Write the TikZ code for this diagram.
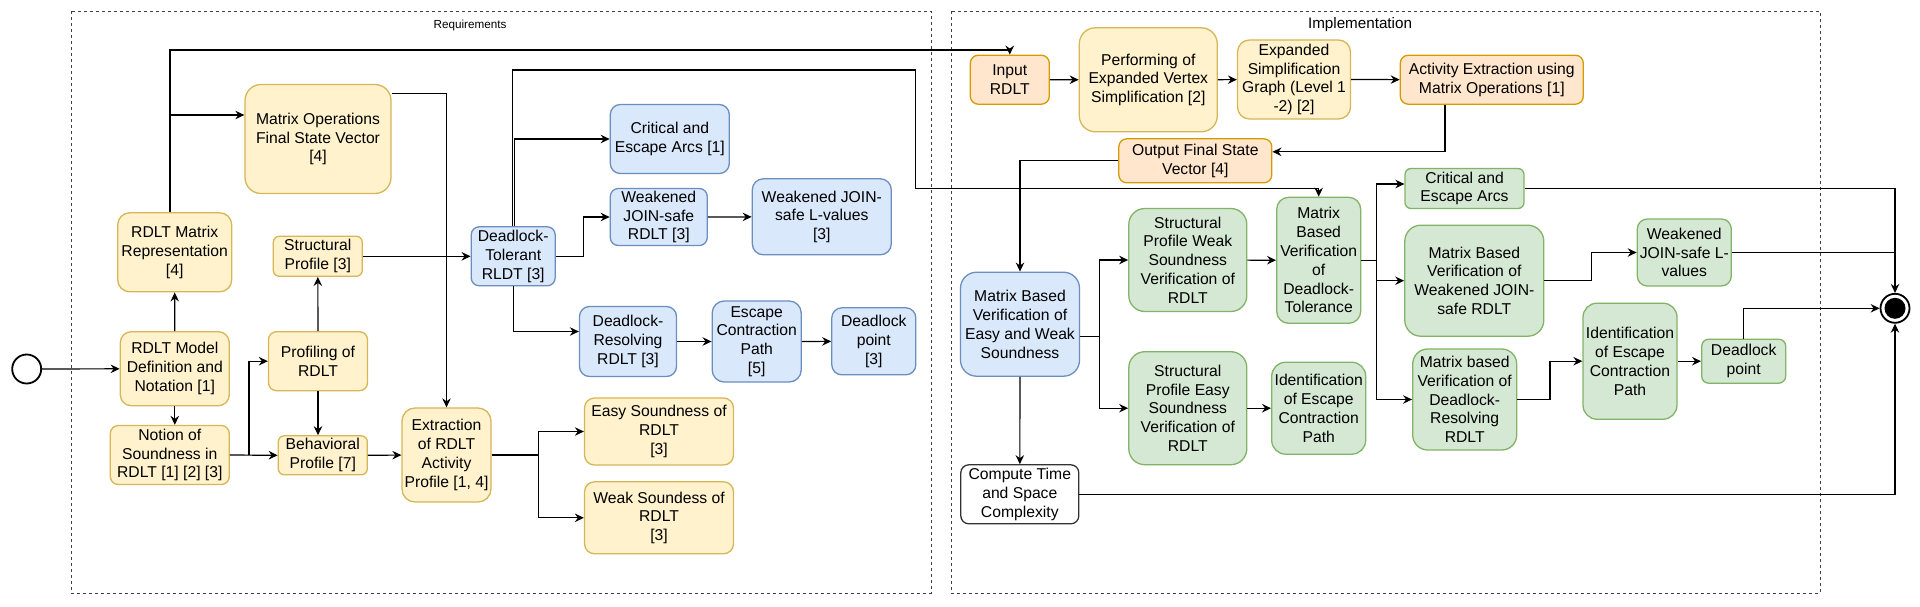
\documentclass[tikz,border=0pt]{standalone}
\usepackage{fontspec}
\setmainfont{Liberation Sans}
\usepackage{xcolor}
\usepackage{tikz}
\usetikzlibrary{arrows.meta}

\definecolor{yfill}{HTML}{FFF2CC}
\definecolor{yline}{HTML}{D6B656}
\definecolor{bfill}{HTML}{DAE8FC}
\definecolor{bline}{HTML}{6C8EBF}
\definecolor{gfill}{HTML}{D5E8D4}
\definecolor{gline}{HTML}{82B366}
\definecolor{ofill}{HTML}{FFE6CC}
\definecolor{oline}{HTML}{D79B00}

\begin{document}
\begin{tikzpicture}[x=1pt,y=-1pt,
    box/.style={draw, rounded corners=8pt, line width=1.3pt, align=center, inner sep=0pt,
      font=\fontsize{15.7pt}{18.8pt}\selectfont},
    ybox/.style={box, fill=yfill, draw=yline},
    bbox/.style={box, fill=bfill, draw=bline},
    gbox/.style={box, fill=gfill, draw=gline},
    obox/.style={box, fill=ofill, draw=oline},
    wbox/.style={box, fill=white, draw=black!80},
    dashbox/.style={draw=black!75, line width=1pt, dash pattern=on 3pt off 3pt},
    arr/.style={-{Stealth[length=9pt,width=8.5pt,inset=3pt]}, line width=1.2pt},
    wire/.style={line width=1.2pt},
  ]
    \useasboundingbox (0,0) rectangle (1920,606);

    \draw[dashbox] (71,11) rectangle (931,593);
    \draw[dashbox] (951,11) rectangle (1820,593);
    \node[font=\fontsize{11.7pt}{14pt}\selectfont] (reqlabel) at (470,25) {Requirements};
    \node[font=\fontsize{15.2pt}{18pt}\selectfont] (implabel) at (1360,25) {Implementation};

    \node[circle, draw, line width=1.8pt, minimum size=29pt, inner sep=0pt] (start) at (26.7,369) {};
    \node[circle, draw, line width=1.8pt, minimum size=29pt, inner sep=0pt] (endc) at (1895,308.3) {};
    \node[circle, fill=black, minimum size=21pt, inner sep=0pt] (enddot) at (endc) {};

    \node[ybox, minimum width=114pt, minimum height=79pt, rounded corners=12pt] (matrep) at (174.7,252.3) {RDLT Matrix\\Representation\\{}[4]};
    \node[ybox, minimum width=146pt, minimum height=109pt, rounded corners=16pt] (matops) at (318,139) {Matrix Operations\\Final State Vector\\{}[4]};
    \node[ybox, minimum width=89pt, minimum height=40pt, rounded corners=6pt] (struct) at (317.8,256.3) {Structural\\Profile [3]};
    \node[ybox, minimum width=109pt, minimum height=74pt, rounded corners=11pt] (model) at (174.8,368.7) {RDLT Model\\Definition and\\Notation [1]};
    \node[ybox, minimum width=119pt, minimum height=59pt] (notion) at (169.8,455) {Notion of\\Soundness in\\RDLT [1] [2] [3]};
    \node[ybox, minimum width=99pt, minimum height=59pt] (prof) at (318,361.2) {Profiling of\\RDLT};
    \node[ybox, minimum width=89pt, minimum height=39pt, rounded corners=6pt] (behav) at (322.8,455.3) {Behavioral\\Profile [7]};
    \node[ybox, minimum width=89pt, minimum height=94pt, rounded corners=13pt] (extr) at (446.5,455) {Extraction\\of RDLT\\Activity\\Profile [1, 4]};
    \node[bbox, minimum width=84pt, minimum height=59pt] (dtol) at (513.2,256.3) {Deadlock-\\Tolerant\\RLDT [3]};
    \node[bbox, minimum width=119pt, minimum height=69pt, rounded corners=10pt] (crit) at (669.8,139) {Critical and\\Escape Arcs [1]};
    \node[bbox, minimum width=97pt, minimum height=57pt] (wjs) at (658.8,217) {Weakened\\JOIN-safe\\RDLT [3]};
    \node[bbox, minimum width=139pt, minimum height=76pt, rounded corners=11pt] (wlv) at (821.8,216.8) {Weakened JOIN-\\safe L-values\\{}[3]};
    \node[bbox, minimum width=97pt, minimum height=70pt, rounded corners=10pt] (dres) at (628,341.5) {Deadlock-\\Resolving\\RDLT [3]};
    \node[bbox, minimum width=89pt, minimum height=81pt, rounded corners=12pt] (ecp) at (756.7,341.5) {Escape\\Contraction\\Path\\{}[5]};
    \node[bbox, minimum width=84pt, minimum height=67pt, rounded corners=10pt] (dlp) at (873.8,341.3) {Deadlock\\point\\{}[3]};
    \node[ybox, minimum width=149pt, minimum height=67pt, rounded corners=10pt] (easy) at (659,431.5) {Easy Soundness of\\RDLT\\{}[3]};
    \node[ybox, minimum width=149pt, minimum height=72pt, rounded corners=10pt] (weak) at (659,517.8) {Weak Soundess of\\RDLT\\{}[3]};

    \node[obox, minimum width=79pt, minimum height=49pt] (input) at (1009.8,79.7) {Input\\RDLT};
    \node[ybox, minimum width=138pt, minimum height=104pt, rounded corners=16pt] (perf) at (1148.3,79.8) {Performing of\\Expanded Vertex\\Simplification [2]};
    \node[ybox, minimum width=113pt, minimum height=79pt, rounded corners=12pt] (esg) at (1294,79.5) {Expanded\\Simplification\\Graph (Level 1\\-2) [2]};
    \node[obox, minimum width=183pt, minimum height=49pt] (actx) at (1491.8,79.7) {Activity Extraction using\\Matrix Operations [1]};
    \node[obox, minimum width=153pt, minimum height=44pt] (outv) at (1195.3,160.8) {Output Final State\\Vector [4]};
    \node[bbox, minimum width=119pt, minimum height=104pt, rounded corners=16pt] (mbvew) at (1020,324.2) {Matrix Based\\Verification of\\Easy and Weak\\Soundness};
    \node[wbox, minimum width=118pt, minimum height=59pt] (comp) at (1019.8,494.3) {Compute Time\\and Space\\Complexity};
    \node[gbox, minimum width=118pt, minimum height=103pt, rounded corners=16pt] (spw) at (1187.8,260) {Structural\\Profile Weak\\Soundness\\Verification of\\RDLT};
    \node[gbox, minimum width=84pt, minimum height=126pt, rounded corners=12pt] (mbvdt) at (1318.7,260.3) {Matrix\\Based\\Verification\\of\\Deadlock-\\Tolerance};
    \node[gbox, minimum width=118pt, minimum height=113pt, rounded corners=16pt] (spe) at (1187.8,408.2) {Structural\\Profile Easy\\Soundness\\Verification of\\RDLT};
    \node[gbox, minimum width=94pt, minimum height=92pt, rounded corners=14pt] (idl) at (1318.7,408.2) {Identification\\of Escape\\Contraction\\Path};
    \node[gbox, minimum width=119pt, minimum height=40pt, rounded corners=6pt] (crit2) at (1464.5,188.5) {Critical and\\Escape Arcs};
    \node[gbox, minimum width=139pt, minimum height=111pt, rounded corners=16pt] (mbvwjs) at (1474.3,280.7) {Matrix Based\\Verification of\\Weakened JOIN-\\safe RDLT};
    \node[gbox, minimum width=104pt, minimum height=101pt, rounded corners=15pt] (mbvdr) at (1464.7,399.5) {Matrix based\\Verification of\\Deadlock-\\Resolving\\RDLT};
    \node[gbox, minimum width=94pt, minimum height=67pt, rounded corners=10pt] (wlv2) at (1684.3,252.5) {Weakened\\JOIN-safe L-\\values};
    \node[gbox, minimum width=94pt, minimum height=116pt, rounded corners=14pt] (idr) at (1630,361.2) {Identification\\of Escape\\Contraction\\Path};
    \node[gbox, minimum width=84pt, minimum height=44pt, rounded corners=7pt] (dlg) at (1743.7,361.2) {Deadlock\\point};

    \coordinate (mrA) at (170,50);
    \coordinate (mrB) at (170,115);
    \coordinate (dtA) at (915.7,70);
    \coordinate (dtB) at (915.7,188.3);
    \coordinate (nsplit) at ([xshift=19pt]notion.east);
    \coordinate (xsplit) at ([xshift=46.7pt]extr.east);
    \coordinate (esplit) at ([xshift=19.4pt,yshift=-12.5pt]mbvew.east);
    \coordinate (tsplit) at ([xshift=15pt]mbvdt.east);

    \draw[arr] (start) -- (model);
    \draw[arr] (model) -- (matrep);
    \draw[arr] (model.south) -- (model.south |- notion.north);
    \draw[arr] (notion.east) -- (behav.west);
    \draw[arr] (nsplit) |- (prof.west);
    \draw[arr] (prof) -- (struct);
    \draw[arr] (prof.south) -- (prof.south |- behav.north);
    \draw[arr] (behav) -- (extr);
    \draw[arr] (struct) -- (dtol);
    \draw[arr] ([yshift=-10pt]matops.north east) -| (extr.north);
    \draw[arr] ([xshift=-4.7pt]matrep.north) -- (mrA) -| (input.north);
    \draw[arr] (mrB) -- (mrB -| matops.west);
    \draw[arr] ([xshift=1.5pt]dtol.north) |- (crit.west);
    \draw[arr] ([xshift=-0.5pt]dtol.north) |- (dtA) -- (dtB) -| (mbvdt.north);
    \draw[arr] (dtol.east) -- ++(28,0) |- (wjs.west);
    \draw[arr] (wjs) -- (wlv);
    \draw[arr] (dtol.south) |- ([yshift=10pt]dres.west);
    \draw[arr] (dres) -- (ecp);
    \draw[arr] (ecp) -- (dlp);
    \draw[wire] (extr.east) -- (xsplit);
    \draw[arr] (xsplit) |- (easy.west);
    \draw[arr] (xsplit) |- (weak.west);

    \draw[arr] (input) -- (perf);
    \draw[arr] (perf) -- (esg);
    \draw[arr] (esg) -- (actx);
    \draw[arr] ([xshift=-46.8pt]actx.south) |- ([yshift=9pt]outv.east);
    \draw[arr] (outv.west) -| (mbvew.north);
    \draw[arr] (mbvew) -- (comp);
    \draw[wire] ([yshift=-12.5pt]mbvew.east) -- (esplit);
    \draw[arr] (esplit) |- (spw.west);
    \draw[arr] (esplit) |- (spe.west);
    \draw[arr] (spw) -- (mbvdt);
    \draw[arr] (spe) -- (idl);
    \draw[wire] (mbvdt.east) -- (tsplit);
    \draw[arr] (tsplit) |- ([yshift=4.5pt]crit2.west);
    \draw[arr] (tsplit) |- (mbvwjs.west);
    \draw[arr] (tsplit) |- (mbvdr.west);
    \draw[arr] (crit2.east) -| (endc.north);
    \draw[arr] (mbvwjs.east) -- ++(47,0) |- (wlv2.west);
    \draw[wire] (wlv2.east) -- (wlv2.east -| endc.north);
    \draw[arr] (mbvdr.east) -- ++(32.6,0) |- (idr.west);
    \draw[arr] (idr) -- (dlg);
    \draw[arr] (dlg.north) |- (endc.west);
    \draw[arr] (comp.east) -| (endc.south);
  \end{tikzpicture}
\end{document}
